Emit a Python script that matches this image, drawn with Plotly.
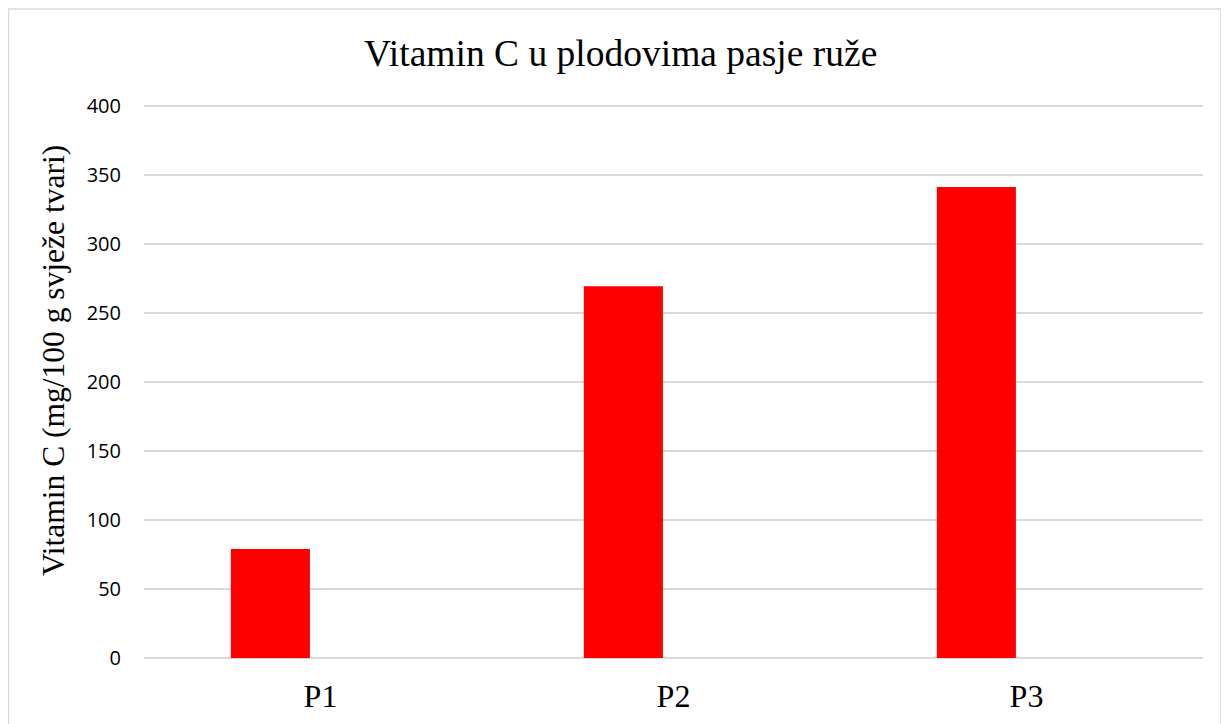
import plotly.graph_objects as go

categories = ["P1", "P2", "P3"]
vitamin_c = [79, 269.5, 341.5]
y_ticks = [0, 50, 100, 150, 200, 250, 300, 350, 400]

fig = go.Figure()
fig.add_trace(go.Bar(
    x=categories, y=vitamin_c,
    marker=dict(color="#ff0000", line=dict(width=0)),
    width=0.224, offset=-0.254,
))

L, R, T, B = 136, 34, 97, 74
PW, PH = 1229 - L - R, 724 - T - B

fig.update_layout(
    width=1229, height=724,
    margin=dict(l=L, r=R, t=T, b=B),
    paper_bgcolor="white", plot_bgcolor="white",
    showlegend=False,
    title=dict(text="Vitamin C u plodovima pasje ruže", x=0.4985, xanchor="center",
               y=1 - 45 / 724, yanchor="middle",
               font=dict(family="Liberation Serif", size=37.5, color="black")),
    xaxis=dict(showgrid=False, showline=False, ticks="",
               tickfont=dict(family="Liberation Serif", size=32, color="black"),
               ticklabelstandoff=16),
    yaxis=dict(range=[0, 401], tickvals=y_ticks, showgrid=True,
               gridcolor="#d9d9d9", gridwidth=1.5, zeroline=True,
               zerolinecolor="#d9d9d9", zerolinewidth=1.5, showline=False,
               tickfont=dict(family="Open Sans", size=20, color="black"),
               ticklabelstandoff=22),
    annotations=[dict(text="Vitamin C (mg/100 g svježe tvari)", textangle=-90,
                      xref="paper", yref="paper", x=(45 - L) / PW, y=(724 - B - 353) / PH,
                      showarrow=False, xanchor="center", yanchor="middle",
                      font=dict(family="Liberation Serif", size=31.5, color="black"))],
    shapes=[dict(type="rect", xref="paper", yref="paper",
                 x0=(0.5 - L) / PW, x1=(1213 - L) / PW,
                 y0=-0.3, y1=(724 - B - 1) / PH,
                 line=dict(color="#d9d9d9", width=1.5), fillcolor="rgba(0,0,0,0)",
                 layer="below")],
)

fig.write_html("out.html")
